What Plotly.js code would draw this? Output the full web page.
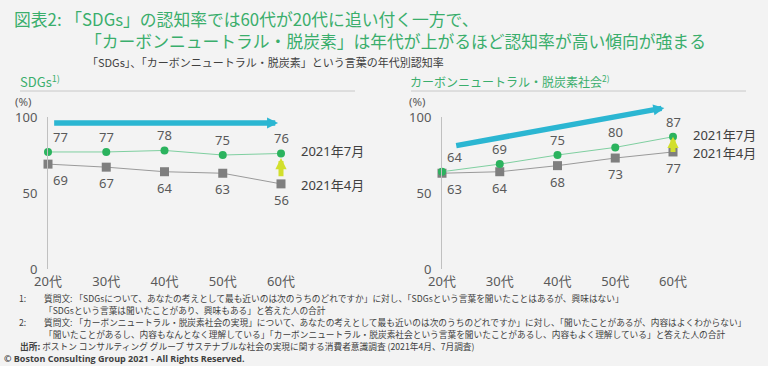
<!DOCTYPE html>
<html>
<head>
<meta charset="utf-8">
<script src="https://cdn.plot.ly/plotly-3.0.1.min.js"></script>
<style>
  html, body { margin: 0; padding: 0; background: #f3f3f3; }
  #chart { width: 768px; height: 366px; }
</style>
</head>
<body>
<div id="chart"></div>
<script>
// ---- data ----
const ages = ['20代', '30代', '40代', '50代', '60代'];
const sdgsJul = [77, 77, 78, 75, 76];
const sdgsApr = [69, 67, 64, 63, 56];
const cnJul = [64, 69, 75, 80, 87];
const cnApr = [63, 64, 68, 73, 77];
const seriesNames = ['2021年7月', '2021年4月'];
const yTicks = [0, 50, 100];

// ---- styling ----
const W = 768, H = 366;
const px = x => x / W;
const py = y => 1 - y / H;
const GREEN = '#2bb35e';
const GREEN_LINE = '#7fcfa0';
const GREY = '#7f7f7f';
const GREY_LINE = '#9a9a9a';
const TEXT = '#595959';
const DARK = '#404040';
const TITLE = '#3aae6c';
const BLUE = '#2bb6d2';
const YELLOW = '#d2df2c';
const NUMF = 'Noto Sans, Noto Sans CJK JP, sans-serif';
const JPF = 'Noto Sans CJK JP, Noto Sans, sans-serif';

const idx = ages.map((_, i) => i);

function traces(xa, ya, jul, apr) {
  return [
    { x: idx, y: apr, xaxis: xa, yaxis: ya, type: 'scatter', mode: 'lines+markers',
      name: seriesNames[1], cliponaxis: false,
      line: { color: GREY_LINE, width: 1 },
      marker: { symbol: 'square', size: 9, color: GREY } },
    { x: idx, y: jul, xaxis: xa, yaxis: ya, type: 'scatter', mode: 'lines+markers',
      name: seriesNames[0], cliponaxis: false,
      line: { color: GREEN_LINE, width: 1 },
      marker: { symbol: 'circle', size: 8, color: GREEN } }
  ];
}

const data = [...traces('x', 'y', sdgsJul, sdgsApr), ...traces('x2', 'y2', cnJul, cnApr)];

function valueLabels(xr, yr, jul, apr) {
  const out = [];
  jul.forEach((v, i) => out.push({ xref: xr, yref: yr, x: i, y: v, text: String(v), showarrow: false,
    yshift: 15, xshift: i === 0 ? 12 : 0, font: { family: NUMF, size: 13, color: TEXT } }));
  apr.forEach((v, i) => out.push({ xref: xr, yref: yr, x: i, y: v, text: String(v), showarrow: false,
    yshift: -16, xshift: i === 0 ? 12 : 0, font: { family: NUMF, size: 13, color: TEXT } }));
  const last = jul.length - 1;
  out.push({ xref: xr, yref: yr, x: last, y: jul[last], text: seriesNames[0], showarrow: false,
    xanchor: 'left', xshift: 18, yshift: 2, font: { family: NUMF, size: 13, color: DARK } });
  out.push({ xref: xr, yref: yr, x: last, y: apr[last], text: seriesNames[1], showarrow: false,
    xanchor: 'left', xshift: 18, yshift: -1, font: { family: NUMF, size: 13, color: DARK } });
  return out;
}

function arrow(xr, yr, x0, y0, x1, y1, color, w, s) {
  return { xref: xr, yref: yr, axref: xr, ayref: yr, x: x1, y: y1, ax: x0, ay: y0,
    text: '', showarrow: true, arrowhead: 2, arrowsize: s, arrowwidth: w, arrowcolor: color, standoff: 0 };
}

function txt(x, y, text, size, color, family, anchor) {
  return { xref: 'paper', yref: 'paper', x: px(x), y: py(y), text: text, showarrow: false,
    xanchor: anchor || 'left', yanchor: 'middle', align: 'left', borderpad: 0,
    font: { family: family || JPF, size: size, color: color } };
}

const annotations = [
  // titles
  txt(13, 19, '図表2: 「SDGs」の認知率では60代が20代に追い付く一方で、', 16.8, TITLE),
  txt(84, 41, '「カーボンニュートラル・脱炭素」は年代が上がるほど認知率が高い傾向が強まる', 16.8, TITLE),
  txt(86, 61.5, '「SDGs」、「カーボンニュートラル・脱炭素」という言葉の年代別認知率', 11, DARK),
  // panel headers
  txt(19, 81, 'SDGs<sup>1)</sup>', 13, TITLE),
  txt(409, 81, 'カーボンニュートラル・脱炭素社会<sup>2)</sup>', 12, TITLE),
  txt(23, 102, '(%)', 11.5, TEXT, NUMF, 'center'),
  txt(417, 102, '(%)', 11.5, TEXT, NUMF, 'center'),
  // arrows
  arrow('x', 'y', 0.08, 96, 3.95, 96, BLUE, 5.5, 0.4),
  arrow('x2', 'y2', 0.22, 81, 3.85, 106, BLUE, 5.5, 0.4),
  arrow('x', 'y', 4, 60, 4, 73, YELLOW, 5, 0.45),
  arrow('x2', 'y2', 4, 76, 4, 87, YELLOW, 5, 0.45),
  ...valueLabels('x', 'y', sdgsJul, sdgsApr),
  ...valueLabels('x2', 'y2', cnJul, cnApr),
  // footnotes
  txt(18, 298, '1:', 8.7, DARK),
  txt(43, 298, '質問文: 「SDGsについて、あなたの考えとして最も近いのは次のうちのどれですか」に対し、「SDGsという言葉を聞いたことはあるが、興味はない」', 8.7, DARK),
  txt(43, 310, '「SDGsという言葉は聞いたことがあり、興味もある」と答えた人の合計', 8.7, DARK),
  txt(18, 322, '2:', 8.7, DARK),
  txt(43, 322, '質問文: 「カーボンニュートラル・脱炭素社会の実現」について、あなたの考えとして最も近いのは次のうちのどれですか」に対し、「聞いたことがあるが、内容はよくわからない」', 8.7, DARK),
  txt(43, 334, '「聞いたことがあるし、内容もなんとなく理解している」「カーボンニュートラル・脱炭素社会という言葉を聞いたことがあるし、内容もよく理解している」と答えた人の合計', 8.7, DARK),
  txt(19, 346, '<b>出所:</b> ボストン コンサルティング グループ サステナブルな社会の実現に関する消費者意識調査 (2021年4月、7月調査)', 8.7, DARK),
  txt(3, 358, '<b>© Boston Consulting Group 2021 - All Rights Reserved.</b>', 9, DARK, 'Open Sans, Noto Sans, sans-serif')
];

const shapes = [
  { type: 'line', xref: 'paper', yref: 'paper', x0: px(20), x1: px(355), y0: py(91), y1: py(91),
    line: { color: '#c8c8c8', width: 1 } },
  { type: 'line', xref: 'paper', yref: 'paper', x0: px(411), x1: px(746), y0: py(91), y1: py(91),
    line: { color: '#c8c8c8', width: 1 } }
];

const yDom = [py(269), py(117)];
function xAxis(dom, anchor) {
  return { domain: dom, anchor: anchor, range: [0, 4], tickvals: idx, ticktext: ages,
    showgrid: false, zeroline: false, showline: false, ticks: '', fixedrange: true,
    ticklabelstandoff: 3,
    tickfont: { family: NUMF, size: 13, color: TEXT } };
}
function yAxis(anchor) {
  return { domain: yDom, anchor: anchor, range: [0, 100], tickvals: yTicks,
    showgrid: false, zeroline: false, showline: true, linecolor: '#c0c0c0', linewidth: 1,
    ticks: '', ticklabelstandoff: 7, fixedrange: true,
    tickfont: { family: NUMF, size: 13, color: TEXT } };
}

const layout = {
  width: W, height: H,
  margin: { l: 0, r: 0, t: 0, b: 0 },
  paper_bgcolor: '#f3f3f3', plot_bgcolor: 'rgba(0,0,0,0)',
  showlegend: false,
  xaxis: xAxis([px(48), px(281)], 'y'),
  yaxis: yAxis('x'),
  xaxis2: xAxis([px(442), px(673)], 'y2'),
  yaxis2: yAxis('x2'),
  annotations: annotations,
  shapes: shapes
};

Plotly.newPlot('chart', data, layout, { staticPlot: true, displayModeBar: false });
</script>
</body>
</html>
